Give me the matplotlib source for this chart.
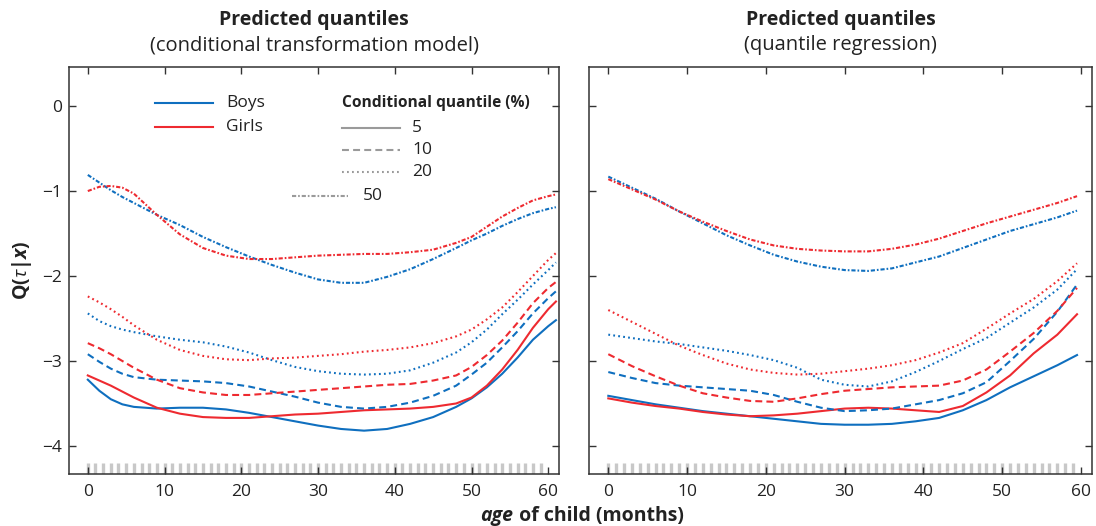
import matplotlib
matplotlib.use("Agg")
import matplotlib.pyplot as plt
import matplotlib.transforms as mtransforms

plt.rcParams['font.family'] = ['Open Sans', 'DejaVu Sans']
plt.rcParams['mathtext.fontset'] = 'custom'
plt.rcParams['mathtext.rm'] = 'Open Sans'
plt.rcParams['mathtext.bf'] = 'Open Sans:bold'
plt.rcParams['mathtext.it'] = 'Open Sans:italic'
plt.rcParams['mathtext.bfit'] = 'Open Sans:bold:italic'
plt.rcParams['lines.scale_dashes'] = False

# ---------------- data ----------------
# Conditional transformation model (left panel)
ages_ctm = [0, 1.5, 3, 4.5, 6, 9, 12, 15, 18, 21, 24, 27, 30, 33, 36, 39, 42, 45,
            48, 50, 52, 54, 56, 58, 60, 61]
ctm_boys_5 = [-3.22, -3.35, -3.45, -3.51, -3.54, -3.56, -3.55, -3.55, -3.57, -3.61, -3.66,
              -3.71, -3.76, -3.80, -3.82, -3.80, -3.74, -3.66,
              -3.54, -3.44, -3.31, -3.15, -2.96, -2.75, -2.59, -2.52]
ctm_girls_5 = [-3.17, -3.23, -3.29, -3.36, -3.43, -3.55, -3.62, -3.66, -3.67, -3.67, -3.65,
               -3.63, -3.62, -3.60, -3.58, -3.57, -3.56, -3.54,
               -3.50, -3.43, -3.29, -3.10, -2.87, -2.61, -2.39, -2.30]
ctm_boys_10 = [-2.92, -3.01, -3.09, -3.15, -3.19, -3.22, -3.23, -3.24, -3.26, -3.30, -3.36,
               -3.42, -3.49, -3.54, -3.56, -3.54, -3.49, -3.41,
               -3.29, -3.16, -3.02, -2.84, -2.65, -2.44, -2.26, -2.18]
ctm_girls_10 = [-2.79, -2.85, -2.92, -3.00, -3.08, -3.22, -3.32, -3.37, -3.40, -3.40, -3.38,
                -3.36, -3.34, -3.32, -3.30, -3.28, -3.27, -3.23,
                -3.17, -3.07, -2.93, -2.76, -2.55, -2.32, -2.14, -2.07]
ctm_boys_20 = [-2.44, -2.53, -2.59, -2.63, -2.66, -2.71, -2.75, -2.78, -2.83, -2.90, -2.99,
               -3.07, -3.12, -3.15, -3.16, -3.15, -3.11, -3.02,
               -2.90, -2.78, -2.63, -2.45, -2.28, -2.10, -1.93, -1.84]
ctm_girls_20 = [-2.24, -2.31, -2.39, -2.48, -2.58, -2.75, -2.87, -2.94, -2.98, -2.99, -2.97,
                -2.96, -2.94, -2.92, -2.89, -2.87, -2.84, -2.79,
                -2.71, -2.63, -2.51, -2.37, -2.19, -2.00, -1.81, -1.73]
ctm_boys_50 = [-0.81, -0.90, -0.99, -1.07, -1.14, -1.28, -1.40, -1.54, -1.66, -1.77, -1.87,
               -1.96, -2.04, -2.08, -2.08, -2.01, -1.92, -1.80,
               -1.67, -1.58, -1.50, -1.41, -1.33, -1.26, -1.21, -1.19]
ctm_girls_50 = [-1.00, -0.95, -0.94, -0.96, -1.03, -1.28, -1.51, -1.67, -1.76, -1.80, -1.80,
                -1.78, -1.76, -1.75, -1.74, -1.74, -1.72, -1.69,
                -1.61, -1.54, -1.42, -1.30, -1.20, -1.11, -1.06, -1.04]

# Quantile regression (right panel)
ages_qr = [0, 3, 6, 9, 12, 15, 18, 21, 24, 27, 30, 33, 36, 39, 42, 45, 48, 51, 54, 57, 59.5]
qr_boys_5 = [-3.41, -3.46, -3.51, -3.55, -3.59, -3.62, -3.65, -3.68, -3.71, -3.74, -3.75,
             -3.75, -3.74, -3.71, -3.67, -3.58, -3.46, -3.31, -3.18, -3.05, -2.93]
qr_girls_5 = [-3.44, -3.49, -3.53, -3.56, -3.60, -3.63, -3.65, -3.64, -3.62, -3.59, -3.56,
              -3.55, -3.56, -3.58, -3.60, -3.53, -3.37, -3.17, -2.91, -2.69, -2.45]
qr_boys_10 = [-3.13, -3.20, -3.26, -3.29, -3.31, -3.33, -3.35, -3.40, -3.48, -3.55, -3.59,
              -3.58, -3.56, -3.51, -3.46, -3.38, -3.25, -3.00, -2.74, -2.42, -2.10]
qr_girls_10 = [-2.92, -3.06, -3.18, -3.29, -3.38, -3.43, -3.47, -3.48, -3.44, -3.39, -3.35,
               -3.33, -3.31, -3.30, -3.29, -3.23, -3.10, -2.89, -2.67, -2.41, -2.14]
qr_boys_20 = [-2.69, -2.73, -2.77, -2.80, -2.84, -2.88, -2.93, -2.99, -3.08, -3.22, -3.28,
              -3.30, -3.24, -3.13, -3.00, -2.86, -2.73, -2.55, -2.37, -2.16, -1.92]
qr_girls_20 = [-2.40, -2.54, -2.68, -2.82, -2.93, -3.03, -3.10, -3.14, -3.16, -3.15, -3.12,
               -3.09, -3.05, -2.99, -2.90, -2.79, -2.62, -2.44, -2.27, -2.06, -1.85]
qr_boys_50 = [-0.83, -0.96, -1.09, -1.24, -1.38, -1.52, -1.64, -1.75, -1.83, -1.89, -1.93,
              -1.94, -1.91, -1.84, -1.77, -1.67, -1.57, -1.47, -1.39, -1.31, -1.23]
qr_girls_50 = [-0.86, -0.98, -1.10, -1.24, -1.36, -1.47, -1.57, -1.64, -1.68, -1.70, -1.71,
               -1.71, -1.68, -1.63, -1.56, -1.47, -1.38, -1.30, -1.22, -1.14, -1.06]

# observed ages (months) shown as a rug
rug_ages = list(range(0, 60))

quantile_labels = ["5", "10", "20", "50"]
x_ticks = [0, 10, 20, 30, 40, 50, 60]
y_ticks = [0, -1, -2, -3, -4]

# ---------------- styling ----------------
BLUE = "#0f6fbf"
RED = "#ee2a30"
GREY = "#9a9a9a"
LW = 1.5
styles = {
    "5": "-",
    "10": (0, (5.0, 3.0)),
    "20": (0, (1.3, 2.3)),
    "50": (0, (3.0, 1.4, 1.2, 1.4)),
}

W, H = 1096, 526
fig = plt.figure(figsize=(W / 100, H / 100), dpi=100)


def axes_rect(x0, x1, y0, y1):
    return [x0 / W, 1 - y1 / H, (x1 - x0) / W, (y1 - y0) / H]


ax1 = fig.add_axes(axes_rect(69, 559, 67, 474))
ax2 = fig.add_axes(axes_rect(589, 1092, 67, 474))

panels = [
    (ax1, ages_ctm,
     {"5": (ctm_boys_5, ctm_girls_5), "10": (ctm_boys_10, ctm_girls_10),
      "20": (ctm_boys_20, ctm_girls_20), "50": (ctm_boys_50, ctm_girls_50)},
     "(conditional transformation model)"),
    (ax2, ages_qr,
     {"5": (qr_boys_5, qr_girls_5), "10": (qr_boys_10, qr_girls_10),
      "20": (qr_boys_20, qr_girls_20), "50": (qr_boys_50, qr_girls_50)},
     "(quantile regression)"),
]

for ax, ages, series, subtitle in panels:
    for q in quantile_labels:
        boys, girls = series[q]
        ax.plot(ages, boys, color=BLUE, lw=LW, ls=styles[q], zorder=3)
        ax.plot(ages, girls, color=RED, lw=LW, ls=styles[q], zorder=3)
    # rug of observed ages
    trans = mtransforms.blended_transform_factory(ax.transData, ax.transAxes)
    ax.vlines(rug_ages, 0, 0.028, transform=trans, colors="#c8c8c8", lw=2.4, zorder=1)

    ax.set_xlim(-2.45, 61.4)
    ax.set_ylim(-4.33, 0.46)
    ax.set_xticks(x_ticks)
    ax.set_yticks(y_ticks)
    ax.tick_params(direction="in", length=5, width=1.0, color="#333333",
                   top=True, right=True, labelsize=12.5, labelcolor="#222222")
    ax.tick_params(axis="x", pad=7)
    ax.tick_params(axis="y", pad=5)
    for s in ax.spines.values():
        s.set_color("#333333")
        s.set_linewidth(1.1)
    ax.text(0.5, 1.115, "Predicted quantiles", transform=ax.transAxes, ha="center",
            va="center", fontsize=14, fontweight="bold", color="#222222")
    ax.text(0.5, 1.053, subtitle, transform=ax.transAxes, ha="center",
            va="center", fontsize=14.5, color="#222222")

ax2.tick_params(labelleft=False)

# y label
ax1.set_ylabel(r"$\mathbf{Q(}\mathit{\tau}\mathbf{|}\mathbfit{x}\mathbf{)}$",
               fontsize=14, color="#222222")
ax1.yaxis.set_label_coords(-0.071, 0.5)

# x label: italic "age" followed by bold text, centred under both panels
fig.canvas.draw()
renderer = fig.canvas.get_renderer()
t1 = fig.text(0, 0, "age", fontsize=14, fontweight="bold", fontstyle="italic", color="#222222")
t2 = fig.text(0, 0, " of child (months)", fontsize=14, fontweight="bold", color="#222222")
w1 = t1.get_window_extent(renderer).width
w2 = t2.get_window_extent(renderer).width
cx = 582
ybase = 521
x0 = cx - (w1 + w2) / 2
t1.set_position((x0 / W, 1 - ybase / H))
t2.set_position(((x0 + w1) / W, 1 - ybase / H))
t1.set_va("baseline")
t2.set_va("baseline")

# legends drawn in axes coordinates
tr = ax1.transAxes
ax1.plot([0.176, 0.294], [0.912, 0.912], color=BLUE, lw=LW, transform=tr)
ax1.plot([0.176, 0.294], [0.853, 0.853], color=RED, lw=LW, transform=tr)
ax1.text(0.320, 0.912, "Boys", transform=tr, va="center", fontsize=12.5, color="#222222")
ax1.text(0.320, 0.853, "Girls", transform=tr, va="center", fontsize=12.5, color="#222222")

ax1.text(0.557, 0.912, "Conditional quantile (%)", transform=tr, va="center",
         fontsize=11.2, fontweight="bold", color="#222222")
leg_rows = [("5", 0.557, 0.676, 0.700, 0.850),
            ("10", 0.557, 0.676, 0.700, 0.796),
            ("20", 0.557, 0.676, 0.700, 0.741),
            ("50", 0.455, 0.570, 0.600, 0.683)]
for q, xa, xb, xt, yy in leg_rows:
    ax1.plot([xa, xb], [yy, yy], color=GREY, lw=LW, ls=styles[q], transform=tr)
    ax1.text(xt, yy, q, transform=tr, va="center", fontsize=12.5, color="#222222")

fig.savefig("out.png", dpi=100)
